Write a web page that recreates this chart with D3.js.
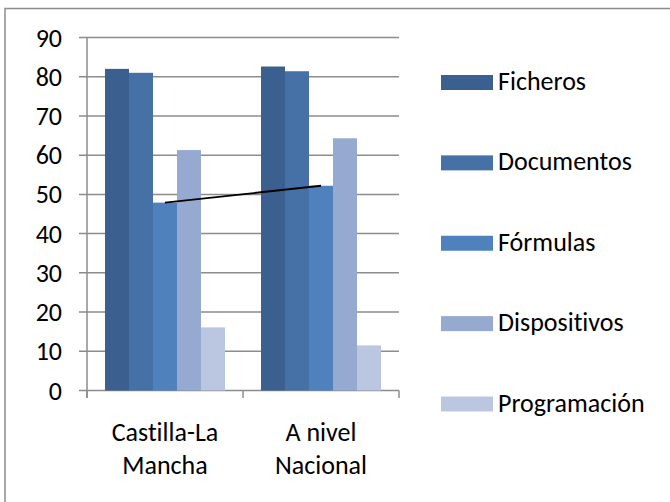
<!DOCTYPE html>
<html lang="es">
<head>
<meta charset="utf-8">
<title>Ficheros / Documentos</title>
<script src="https://d3js.org/d3.v7.min.js"></script>
<style>
  body { margin: 0; background: #fff; }
  svg text { font-family: Carlito, Calibri, Lato, sans-serif; fill: #000; font-variant-ligatures: none; }
</style>
</head>
<body>
<div id="chart"></div>
<script>
// datos
var categorias = [["Castilla-La", "Mancha"], ["A nivel", "Nacional"]]
var series = ["Ficheros", "Documentos", "Fórmulas", "Dispositivos", "Programación"]
var ficheros = [82, 82.6]
var documentos = [81, 81.4]
var formulas = [47.9, 52.2]
var dispositivos = [61.3, 64.3]
var programacion = [16.1, 11.5]
var yTicks = [0, 10, 20, 30, 40, 50, 60, 70, 80, 90]
var colores = ["#3b5f8e", "#4571a6", "#4f81bd", "#95a9d1", "#bbc7e1"]

var valores = [ficheros, documentos, formulas, dispositivos, programacion]

var w = 670, h = 502
var svg = d3.select("#chart").append("svg").attr("width", w).attr("height", h)

// marco exterior
svg.append("rect")
  .attr("x", 5).attr("y", 8.5).attr("width", w).attr("height", h)
  .attr("fill", "none").attr("stroke", "#8c8c8c").attr("stroke-width", 1.5)

var yScale = d3.scaleLinear().domain([0, 90]).range([390.5, 37.5])
var xScale = d3.scaleBand().domain(d3.range(categorias.length)).range([87, 399])
var sScale = d3.scaleBand().domain(d3.range(series.length))
  .range([0, xScale.bandwidth()]).paddingOuter(0.75)

// lineas de cuadricula
svg.selectAll(".grid").data(yTicks).enter().append("line")
  .attr("x1", 79).attr("x2", 399)
  .attr("y1", function(d){ return yScale(d) }).attr("y2", function(d){ return yScale(d) })
  .attr("stroke", "#8c8c8c").attr("stroke-width", 1.5)

svg.selectAll(".ylab").data(yTicks).enter().append("text")
  .attr("x", 62).attr("y", function(d){ return yScale(d) })
  .attr("dy", "0.35em").attr("text-anchor", "end")
  .style("font-size", "26px")
  .text(function(d){ return d })

// barras
valores.forEach(function(vals, s){
  svg.selectAll(".bar" + s).data(vals).enter().append("rect")
    .attr("x", function(d, i){ return xScale(i) + sScale(s) })
    .attr("y", function(d){ return yScale(d) })
    .attr("width", sScale.bandwidth())
    .attr("height", function(d){ return yScale(0) - yScale(d) })
    .attr("fill", colores[s])
})

// ejes
svg.append("line").attr("x1", 87).attr("x2", 87).attr("y1", 37.5).attr("y2", 398)
  .attr("stroke", "#8c8c8c").attr("stroke-width", 1.5)
svg.selectAll(".xtick").data([0, 1, 2]).enter().append("line")
  .attr("x1", function(d){ return 87 + d * xScale.step() })
  .attr("x2", function(d){ return 87 + d * xScale.step() })
  .attr("y1", 390.5).attr("y2", 398)
  .attr("stroke", "#8c8c8c").attr("stroke-width", 1.5)

// linea negra entre formulas
var line = d3.line()
  .x(function(d, i){ return xScale(i) + xScale.bandwidth() / 2 })
  .y(function(d){ return yScale(d) })
svg.append("path").datum(formulas).attr("d", line)
  .attr("fill", "none").attr("stroke", "#000").attr("stroke-width", 1.8)

// etiquetas de categoria
categorias.forEach(function(c, i){
  svg.append("text")
    .attr("x", xScale(i) + xScale.bandwidth() / 2).attr("y", 441)
    .attr("text-anchor", "middle").style("font-size", "26px")
    .selectAll("tspan").data(c).enter().append("tspan")
    .attr("x", xScale(i) + xScale.bandwidth() / 2)
    .attr("dy", function(d, j){ return j == 0 ? 0 : 33 })
    .text(function(d){ return d })
})

// leyenda
var ly = d3.scaleLinear().domain([0, 4]).range([82.5, 404])
var leg = svg.selectAll(".leg").data(series).enter().append("g")
  .attr("transform", function(d, i){ return "translate(441," + ly(i) + ")" })
leg.append("rect").attr("x", 0).attr("y", -7.5).attr("width", 52).attr("height", 15)
  .attr("fill", function(d, i){ return colores[i] })
leg.append("text").attr("x", 57).attr("y", 7.5)
  .style("font-size", "26px")
  .text(function(d){ return d })
</script>
</body>
</html>
